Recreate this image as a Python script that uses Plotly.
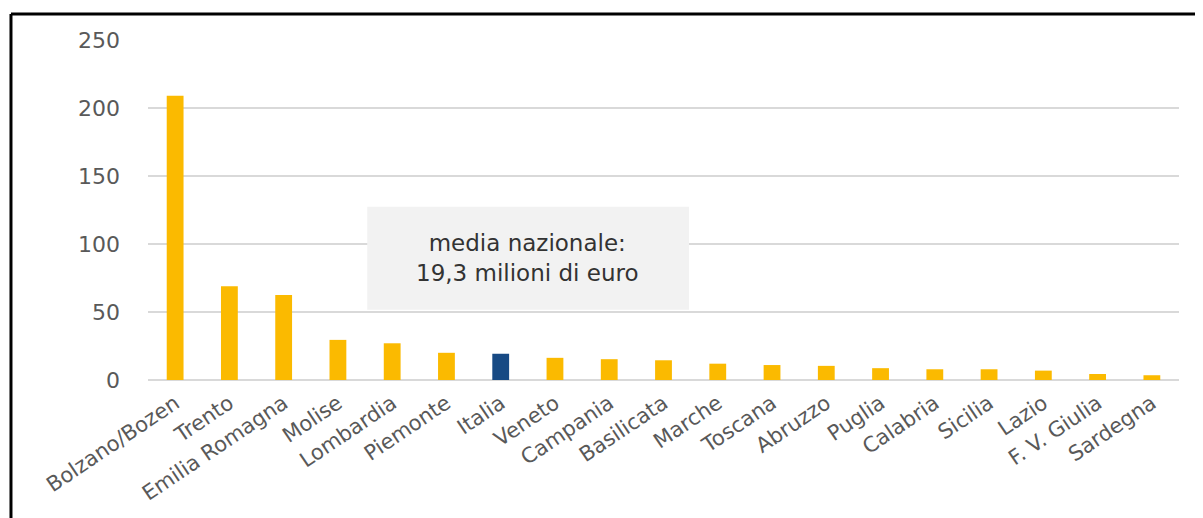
import plotly.graph_objects as go

regions = ["Bolzano/Bozen", "Trento", "Emilia Romagna", "Molise", "Lombardia", "Piemonte",
           "Italia", "Veneto", "Campania", "Basilicata", "Marche", "Toscana", "Abruzzo",
           "Puglia", "Calabria", "Sicilia", "Lazio", "F. V. Giulia", "Sardegna"]
values = [209, 69, 62.5, 29.5, 27, 20, 19.3, 16.3, 15.3, 14.5, 12, 11, 10.4,
          8.7, 7.9, 7.9, 6.9, 4.4, 3.5]
yticks = [0, 50, 100, 150, 200, 250]
note = "media nazionale:<br>19,3 milioni di euro"

YELLOW = "#FBBA00"
BLUE = "#174A84"
colors = [BLUE if r == "Italia" else YELLOW for r in regions]

fig = go.Figure(go.Bar(x=regions, y=values, marker=dict(color=colors, line=dict(width=0)),
                       width=0.31))

# page body has an 8px default margin, so the figure is sized/offset accordingly
fig.update_layout(
    width=1195, height=510,
    margin=dict(l=140, r=24, t=32, b=138),
    paper_bgcolor="white", plot_bgcolor="white",
    showlegend=False,
    font=dict(family="DejaVu Sans", color="#595959", size=21),
    bargap=0.69,
)
fig.update_xaxes(type="category", tickangle=-34, showgrid=False, showline=False,
                 ticks="", ticklabelstandoff=6, tickfont=dict(size=21, color="#595959"))
fig.update_yaxes(range=[0, 250], tickvals=yticks, showgrid=True, gridcolor="#D9D9D9",
                 gridwidth=2, zeroline=True, zerolinecolor="#D9D9D9", zerolinewidth=2,
                 ticks="", ticklabelstandoff=27, tickfont=dict(size=22, color="#595959"))

fig.add_shape(type="rect", xref="x", yref="y", x0=3.54, x1=9.47, y0=51.7, y1=127.3,
              fillcolor="#F2F2F2", line=dict(width=0), layer="above")
fig.add_annotation(x=6.5, y=89.5, xref="x", yref="y", text=note, showarrow=False,
                   font=dict(family="DejaVu Sans", size=23, color="#333333"), align="center")

# outer frame (top and left)
fig.add_shape(type="line", xref="paper", yref="paper", x0=-0.1329, x1=1.05, y0=1.0765, y1=1.0765,
              line=dict(color="black", width=3))
fig.add_shape(type="line", xref="paper", yref="paper", x0=-0.1329, x1=-0.1329, y0=1.0765, y1=-0.42,
              line=dict(color="black", width=3))

fig.write_html("out.html")
